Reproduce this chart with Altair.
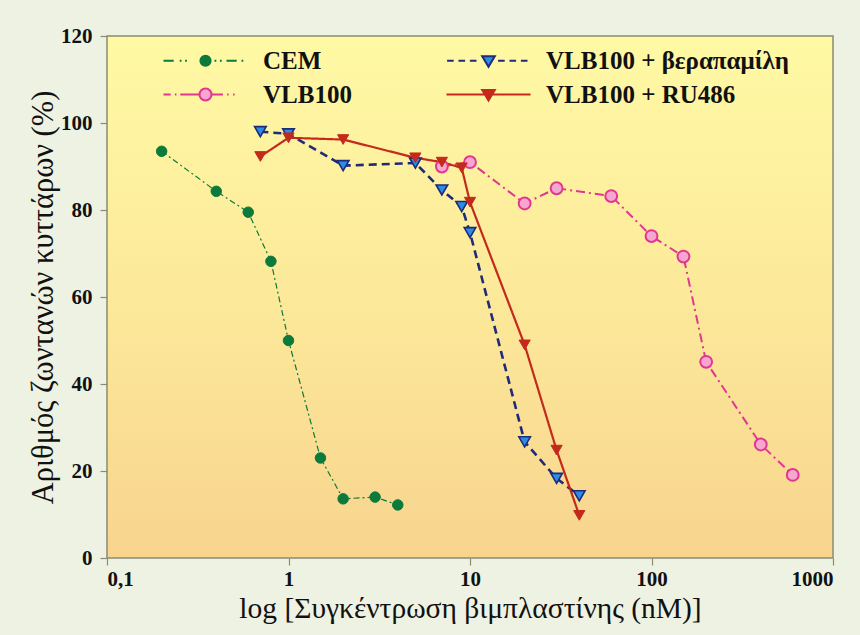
import altair as alt
import pandas as pd

# ---------------- data ----------------
series_names = ["CEM", "VLB100", "VLB100 + βεραπαμίλη", "VLB100 + RU486"]

cem_x = [0.2, 0.4, 0.6, 0.8, 1, 1.5, 2, 3, 4]
cem_y = [93.5, 84.3, 79.5, 68.2, 50, 23, 13.6, 14, 12.2]

vlb_x = [7, 10, 20, 30, 60, 100, 150, 200, 400, 600]
vlb_y = [90.0, 91.0, 81.5, 85.0, 83.2, 74.0, 69.3, 45.1, 26.1, 19.1]

ver_x = [0.7, 1, 2, 5, 7, 9, 10, 20, 30, 40]
ver_y = [98.0, 97.5, 90.2, 90.8, 84.6, 80.8, 74.8, 26.7, 18.3, 14.3]

ru_x = [0.7, 1, 2, 5, 7, 9, 10, 20, 30, 40]
ru_y = [92.3, 96.6, 96.2, 92.0, 91.0, 89.7, 81.8, 49.0, 24.8, 9.8]

x_ticks = [0.1, 1, 10, 100, 1000]
y_ticks = [0, 20, 40, 60, 80, 100, 120]

# ---------------- styles ----------------
FONT = "Liberation Serif"
GREEN = "#0c7a3a"
NAVY = "#1f2a78"
BLUE = "#2b8de6"
PINK = "#e0378f"
PINK_FILL = "#f6a6cf"
RED = "#c42a1c"
FRAME = "#8b8b73"

series_data = {
    "CEM": (cem_x, cem_y),
    "VLB100": (vlb_x, vlb_y),
    "VLB100 + βεραπαμίλη": (ver_x, ver_y),
    "VLB100 + RU486": (ru_x, ru_y),
}

rows = []
for name, (xs, ys) in series_data.items():
    for xv, yv in zip(xs, ys):
        rows.append({"series": name, "conc": xv, "pct": yv})
df = pd.DataFrame(rows)

x_enc = alt.X(
    "conc:Q",
    scale=alt.Scale(type="log", domain=[0.1, 1000]),
    axis=alt.Axis(
        values=x_ticks,
        labelExpr="datum.value < 0.5 ? '0,1' : format(datum.value, 'd')",
        title="log [Συγκέντρωση βιμπλαστίνης (nM)]",
        labelPadding=3,
        titleX=363,
        titleY=50,
        titleFontSize=29.5,
        titleBaseline="middle",
        titleAlign="center",
    ),
)
y_enc = alt.Y(
    "pct:Q",
    scale=alt.Scale(domain=[0, 120]),
    axis=alt.Axis(
        values=y_ticks,
        title="Αριθμός ζωντανών κυττάρων (%)",
        labelPadding=8,
        titleX=-64,
        titleY=261,
        titleFontSize=30.5,
        titleAngle=-90,
        titleBaseline="middle",
        titleAlign="center",
    ),
)

# plot-area background (gradient) with frame
bg = (
    alt.Chart(pd.DataFrame({"k": [0]}))
    .mark_rect(
        fill=alt.LinearGradient(
            gradient="linear",
            x1=0, x2=0, y1=0, y2=1,
            stops=[
                alt.GradientStop(color="#fff9a4", offset=0),
                alt.GradientStop(color="#fce99a", offset=0.5),
                alt.GradientStop(color="#f8d48e", offset=1),
            ],
        ),
        stroke=FRAME,
        strokeWidth=1.5,
    )
    .encode(x=alt.value(0), x2=alt.value("width"), y=alt.value(0), y2=alt.value("height"))
)

styles = {
    "CEM": dict(stroke=GREEN, dash=[6, 3, 2, 3], width=1.2, shape="circle",
                fill=GREEN, pstroke=GREEN, size=110, pwidth=1),
    "VLB100": dict(stroke=PINK, dash=[9, 4, 2, 4], width=2, shape="circle",
                   fill=PINK_FILL, pstroke=PINK, size=140, pwidth=2),
    "VLB100 + βεραπαμίλη": dict(stroke=NAVY, dash=[8, 5], width=2.6, shape="triangle-down",
                                fill=BLUE, pstroke=NAVY, size=135, pwidth=1.6),
    "VLB100 + RU486": dict(stroke=RED, dash=[1, 0], width=2.2, shape="triangle-down",
                           fill=RED, pstroke=RED, size=125, pwidth=1),
}

layers = [bg]
for name in ["CEM", "VLB100", "VLB100 + βεραπαμίλη", "VLB100 + RU486"]:
    st = styles[name]
    base = alt.Chart(df).transform_filter(alt.datum.series == name)
    layers.append(
        base.mark_line(stroke=st["stroke"], strokeDash=st["dash"], strokeWidth=st["width"])
        .encode(x=x_enc, y=y_enc)
    )
for name in ["CEM", "VLB100", "VLB100 + βεραπαμίλη", "VLB100 + RU486"]:
    st = styles[name]
    base = alt.Chart(df).transform_filter(alt.datum.series == name)
    layers.append(
        base.mark_point(shape=st["shape"], filled=True, fill=st["fill"], stroke=st["pstroke"],
                        strokeWidth=st["pwidth"], size=st["size"], opacity=1)
        .encode(x=x_enc, y=y_enc)
    )

# ---------------- legend (symbol = line sample + marker) ----------------
circ = "M-1,0 A1,1 0 1,1 1,0 A1,1 0 1,1 -1,0 Z"
circ_s = "M-0.85,0 A0.85,0.85 0 1,1 0.85,0 A0.85,0.85 0 1,1 -0.85,0 Z"
tri = "M-1.05,-0.75 L1.05,-0.75 L0,1 Z"
legend_paths = [
    "M-7.0,0 L-5.3,0 M-4.3,0 L-4.0,0 M-3.4,0 L-3.1,0 " + circ_s +
    " M1.5,0 L1.8,0 M2.4,0 L2.7,0 M3.5,0 L5.2,0 M6.0,0 L6.3,0",
    "M-7,0 L-5.8,0 M-5.1,0 L-4.85,0 M-4.2,0 L-1,0 " + circ +
    " M1,0 L2.9,0 M3.6,0 L3.85,0 M4.6,0 L4.85,0",
    "M-6.9,0 L-5.8,0 M-5.0,0 L-3.9,0 M-3.1,0 L-2.0,0 " + tri +
    " M1.6,0 L2.7,0 M3.5,0 L4.6,0 M5.4,0 L6.5,0",
    "M-7,0 L7,0 " + tri,
]
legend_fill = [GREEN, PINK_FILL, BLUE, RED]
legend_stroke = [GREEN, PINK, NAVY, RED]

leg = alt.Legend(
    title=None,
    orient="none",
    legendX=86,
    legendY=12,
    columns=2,
    columnPadding=90,
    rowPadding=8,
    symbolSize=144,
    symbolStrokeWidth=2,
    labelOffset=45,
    labelFont=FONT,
    labelFontSize=25,
    labelFontWeight="bold",
    labelColor="#111111",
    labelLimit=400,
)

legend_layer = (
    alt.Chart(df)
    .transform_filter("false")
    .mark_point(filled=True, opacity=1)
    .encode(
        x=x_enc,
        y=y_enc,
        shape=alt.Shape("series:N", scale=alt.Scale(domain=series_names, range=legend_paths), legend=leg),
        fill=alt.Fill("series:N", scale=alt.Scale(domain=series_names, range=legend_fill), legend=leg),
        stroke=alt.Stroke("series:N", scale=alt.Scale(domain=series_names, range=legend_stroke), legend=leg),
    )
)
layers.append(legend_layer)

chart = (
    alt.layer(*layers)
    .properties(
        width=726,
        height=522,
        autosize=alt.AutoSizeParams(type="none"),
        padding={"left": 107, "top": 36, "right": 27, "bottom": 77},
        background="#eef2e2",
    )
    .configure(font=FONT)
    .configure_view(stroke=None)
    .configure_legend(labelFont=FONT, labelFontWeight="bold", labelFontSize=25)
    .configure_axis(
        labelFont=FONT,
        labelFontSize=21,
        labelFontWeight="bold",
        labelColor="#111111",
        tickColor=FRAME,
        tickSize=7,
        tickWidth=1.2,
        domain=False,
        grid=False,
        titleFont=FONT,
        titleFontWeight="normal",
        titleColor="#111111",
    )
)

chart.save("out.html", embed_options={"renderer": "svg", "actions": False})
